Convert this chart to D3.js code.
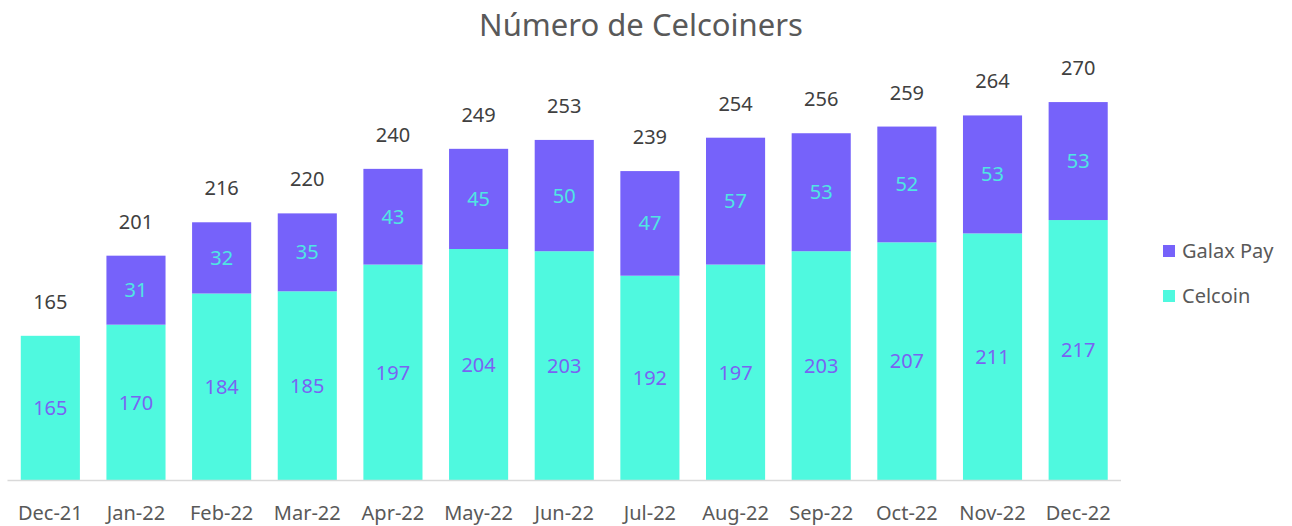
<!DOCTYPE html>
<html>
<head>
<meta charset="utf-8">
<script src="https://cdn.jsdelivr.net/npm/d3@7"></script>
<style>
  html, body { margin: 0; padding: 0; background: #fff; }
  svg { display: block; font-family: "Noto Sans", "Open Sans", sans-serif; }
</style>
</head>
<body>
<div id="chart"></div>
<script>
// Chart data
const months = ['Dec-21', 'Jan-22', 'Feb-22', 'Mar-22', 'Apr-22', 'May-22', 'Jun-22',
                'Jul-22', 'Aug-22', 'Sep-22', 'Oct-22', 'Nov-22', 'Dec-22'];
const celcoin = [165, 170, 184, 185, 197, 204, 203, 192, 197, 203, 207, 211, 217];
const galaxPay = [0, 31, 32, 35, 43, 45, 50, 47, 57, 53, 52, 53, 53];
const totals = [165, 201, 216, 220, 240, 249, 253, 239, 254, 256, 259, 264, 270];
const seriesNames = ['Galax Pay', 'Celcoin'];

const width = 1292;
const height = 526;

const colors = { celcoin: '#4ff9df', galax: '#7662fa' };

const svg = d3.select('#chart')
    .append('svg')
    .attr('width', width)
    .attr('height', height);

// Scales (value axis starts at 100 in the original)
const x = d3.scaleBand()
    .domain(months)
    .range([7.5, 1121])
    .paddingInner(0.31)
    .paddingOuter(0.155);

const y = d3.scaleLinear()
    .domain([100, 300])
    .range([480.5, 35.3]);

// Title
svg.append('text')
    .attr('x', 641)
    .attr('y', 36)
    .attr('text-anchor', 'middle')
    .style('font-size', '31px')
    .style('fill', '#595959')
    .text('Número de Celcoiners');

// Stacked bars
const rows = months.map((m, i) => ({ month: m, celcoin: celcoin[i], galax: galaxPay[i], total: totals[i] }));

const g = svg.append('g');

g.selectAll('rect.celcoin')
    .data(rows)
    .enter()
    .append('rect')
    .attr('class', 'celcoin')
    .attr('x', d => x(d.month))
    .attr('width', x.bandwidth())
    .attr('y', d => y(d.celcoin))
    .attr('height', d => y(100) - y(d.celcoin))
    .attr('fill', colors.celcoin);

g.selectAll('rect.galax')
    .data(rows.filter(d => d.galax > 0))
    .enter()
    .append('rect')
    .attr('class', 'galax')
    .attr('x', d => x(d.month))
    .attr('width', x.bandwidth())
    .attr('y', d => y(d.celcoin + d.galax))
    .attr('height', d => y(d.celcoin) - y(d.celcoin + d.galax))
    .attr('fill', colors.galax);

// Axis line
svg.append('line')
    .attr('x1', 7.5)
    .attr('x2', 1121)
    .attr('y1', 480.5)
    .attr('y2', 480.5)
    .attr('stroke', '#d9d9d9')
    .attr('stroke-width', 1.5);

// Category labels
svg.selectAll('text.cat')
    .data(months)
    .enter()
    .append('text')
    .attr('class', 'cat')
    .attr('x', d => x(d) + x.bandwidth() / 2)
    .attr('y', 520)
    .attr('text-anchor', 'middle')
    .style('font-size', '20px')
    .style('fill', '#595959')
    .text(d => d);

// Inner labels
svg.selectAll('text.lc')
    .data(rows)
    .enter()
    .append('text')
    .attr('class', 'lc')
    .attr('x', d => x(d.month) + x.bandwidth() / 2)
    .attr('y', d => (y(100) + y(d.celcoin)) / 2)
    .attr('dy', '0.35em')
    .attr('text-anchor', 'middle')
    .style('font-size', '20px')
    .style('fill', '#7a63f2')
    .text(d => d.celcoin);

svg.selectAll('text.lg')
    .data(rows.filter(d => d.galax > 0))
    .enter()
    .append('text')
    .attr('class', 'lg')
    .attr('x', d => x(d.month) + x.bandwidth() / 2)
    .attr('y', d => (y(d.celcoin) + y(d.celcoin + d.galax)) / 2)
    .attr('dy', '0.35em')
    .attr('text-anchor', 'middle')
    .style('font-size', '20px')
    .style('fill', '#4fe6e3')
    .text(d => d.galax);

// Total labels
svg.selectAll('text.tot')
    .data(rows)
    .enter()
    .append('text')
    .attr('class', 'tot')
    .attr('x', d => x(d.month) + x.bandwidth() / 2)
    .attr('y', d => y(d.total) - 34)
    .attr('dy', '0.35em')
    .attr('text-anchor', 'middle')
    .style('font-size', '20px')
    .style('fill', '#404040')
    .text(d => d.total);

// Legend
const legend = svg.selectAll('g.legend')
    .data(seriesNames)
    .enter()
    .append('g')
    .attr('class', 'legend')
    .attr('transform', (d, i) => `translate(1163, ${251 + i * 45})`);

legend.append('rect')
    .attr('x', 0)
    .attr('y', -6)
    .attr('width', 12)
    .attr('height', 12)
    .attr('fill', d => d === 'Galax Pay' ? colors.galax : colors.celcoin);

legend.append('text')
    .attr('x', 19)
    .attr('y', 0)
    .attr('dy', '0.35em')
    .style('font-size', '20px')
    .style('fill', '#595959')
    .text(d => d);
</script>
</body>
</html>
